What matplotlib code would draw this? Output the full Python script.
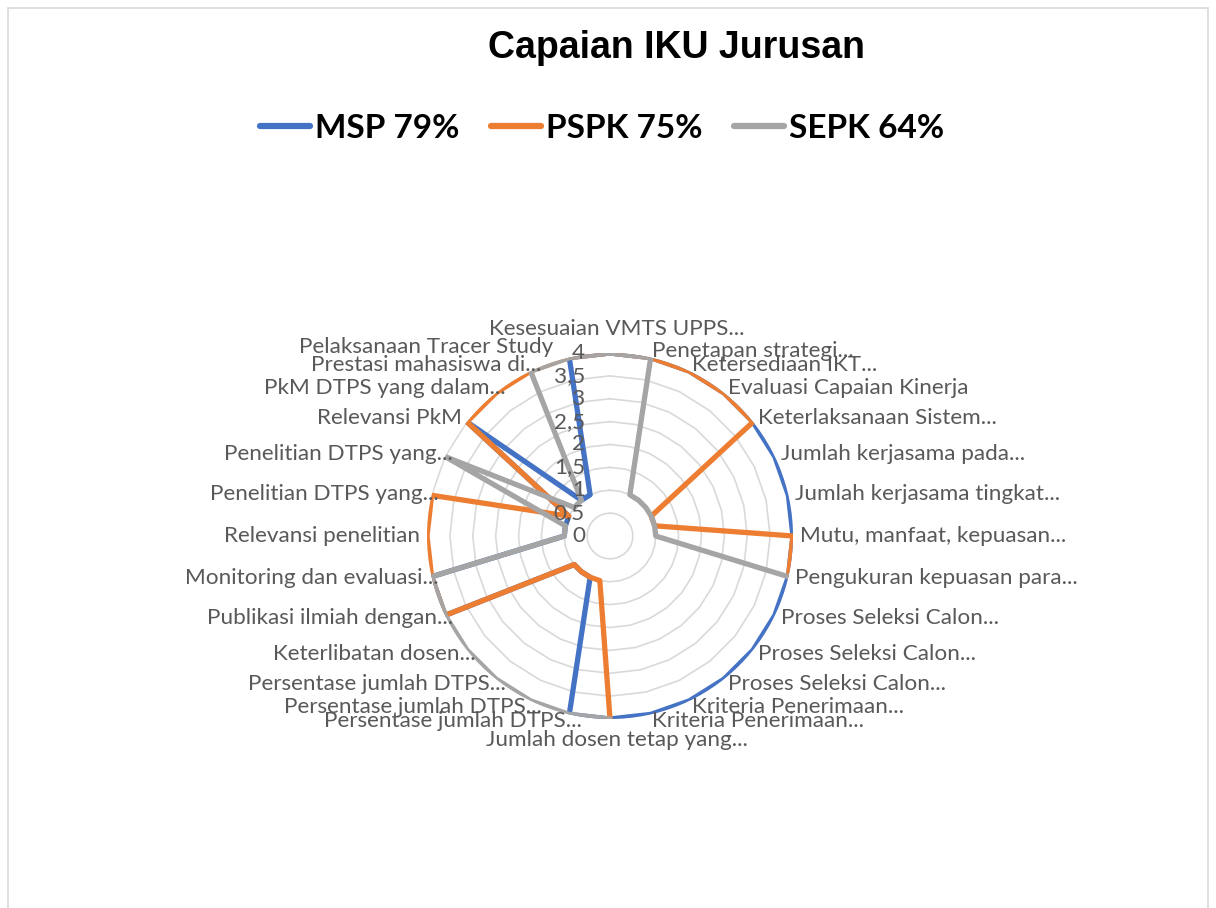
import numpy as np
import matplotlib.pyplot as plt
from matplotlib.lines import Line2D
from matplotlib.patches import Rectangle
from matplotlib.transforms import offset_copy

categories = [
    "Kesesuaian VMTS UPPS...", "Penetapan strategi...", "Ketersediaan IKT...",
    "Evaluasi Capaian Kinerja", "Keterlaksanaan Sistem...", "Jumlah kerjasama pada...",
    "Jumlah kerjasama tingkat...", "Mutu, manfaat, kepuasan...", "Pengukuran kepuasan para...",
    "Proses Seleksi Calon...", "Proses Seleksi Calon...", "Proses Seleksi Calon...",
    "Kriteria Penerimaan...", "Kriteria Penerimaan...", "Jumlah dosen tetap yang...",
    "Persentase jumlah DTPS...", "Persentase jumlah DTPS...", "Persentase jumlah DTPS...",
    "Keterlibatan dosen...", "Publikasi ilmiah dengan...", "Monitoring dan evaluasi...",
    "Relevansi penelitian", "Penelitian DTPS yang...", "Penelitian DTPS yang...",
    "Relevansi PkM", "PkM DTPS yang dalam...", "Prestasi mahasiswa di...",
    "Pelaksanaan Tracer Study",
]
nan = np.nan
msp = [4, 4, 4, 4, 4, 4, 4, 4, 4, 4, 4, 4, 4, 4, 4, 4, 1, 1, 1, 4, 4, 1, 1, 1, 4, 1, 1, 4]
pspk = [4, 4, 4, 4, 4, 1, 1, 4, 4, nan, nan, nan, nan, nan, 4, 1, 1, 1, 1, 4, 4, 4, 4, 1, 4, 4, 4, 4]
sepk = [4, 4, 1, 1, 1, 1, 1, 1, 4, nan, nan, nan, nan, nan, 4, 4, 4, 4, 4, 4, 4, 1, 1, 4, 1, 1, 4, 4]
series_names = ["MSP 79%", "PSPK 75%", "SEPK 64%"]
colors = ["#4472C4", "#ED7D31", "#A5A5A5"]
rticks = [0, 0.5, 1, 1.5, 2, 2.5, 3, 3.5, 4]
rtick_labels = ["0", "0,5", "1", "1,5", "2", "2,5", "3", "3,5", "4"]

W, H = 1216, 908
fig = plt.figure(figsize=(W / 100, H / 100), dpi=100)

# chart border
fig.patches.append(Rectangle((8 / W, -0.01), 1200 / W, 1 - 8 / H + 0.01, transform=fig.transFigure,
                             fill=False, edgecolor="#d9d9d9", lw=1.2))

cx, cy, R = 610, H - 536, 183
ax = fig.add_axes([(cx - R) / W, (cy - R) / H, 2 * R / W, 2 * R / H], projection="polar")
ax.set_theta_zero_location("N")
ax.set_theta_direction(-1)
ax.set_ylim(0, 4)
ax.grid(False)
ax.set_xticks([])
ax.set_yticks([])
ax.spines["polar"].set_visible(False)
ax.patch.set_alpha(0)

n = len(categories)
theta = np.arange(n) * 2 * np.pi / n
theta_c = np.append(theta, theta[0])

for v in rticks[1:]:
    ax.plot(theta_c, [v] * (n + 1), color="#d9d9d9", lw=1.2, zorder=1)

for vals, c in zip([msp, pspk, sepk], colors):
    vv = np.append(np.array(vals, dtype=float), vals[0])
    ax.plot(theta_c, vv, color=c, lw=3.8, solid_joinstyle="round", solid_capstyle="round", zorder=3)

lab_font = dict(family="Lato", size=16.2, color="#595959")
for i, (t, lab) in enumerate(zip(theta, categories)):
    s = np.sin(t)
    dots = lab.endswith("...")
    dx, dy = 0, 0
    if abs(s) < 1e-6:
        ha = "center"
        dx = 7 if dots else 0
    elif s > 0:
        ha = "left"
    else:
        ha = "right"
        dx = 14 if dots else 0
    va = "center"
    r = 4.15
    if np.cos(t) > 0.999:
        va, r = "bottom", 4.3
    elif np.cos(t) < -0.999:
        va, r = "top", 4.25
    if i == n - 1:
        # excel nudges this one away from the top label
        dx, dy = -15, 4
    tt = offset_copy(ax.transData, fig=fig, x=dx, y=dy, units="dots")
    ax.text(t, r, lab, ha=ha, va=va, transform=tt, **lab_font)

tr = offset_copy(ax.transData, fig=fig, x=-25, y=0, units="dots")
for v, lab in zip(rticks, rtick_labels):
    ax.text(0, v, lab, transform=tr, ha="right", va="center", **lab_font)

fig.text(676 / W, 1 - 48 / H, "Capaian IKU Jurusan", ha="center", va="center",
         family="Liberation Sans", weight="bold", size=27)

handles = [Line2D([], [], color=c, lw=4.5, solid_capstyle="round") for c in colors]
fig.legend(handles, series_names, loc="center", bbox_to_anchor=(602 / W, 1 - 128 / H), ncol=3,
           frameon=False, prop=dict(family="Lato", weight="bold", size=24),
           handlelength=1.5, handletextpad=0.15, columnspacing=0.95)

fig.savefig("out.png", dpi=100)
